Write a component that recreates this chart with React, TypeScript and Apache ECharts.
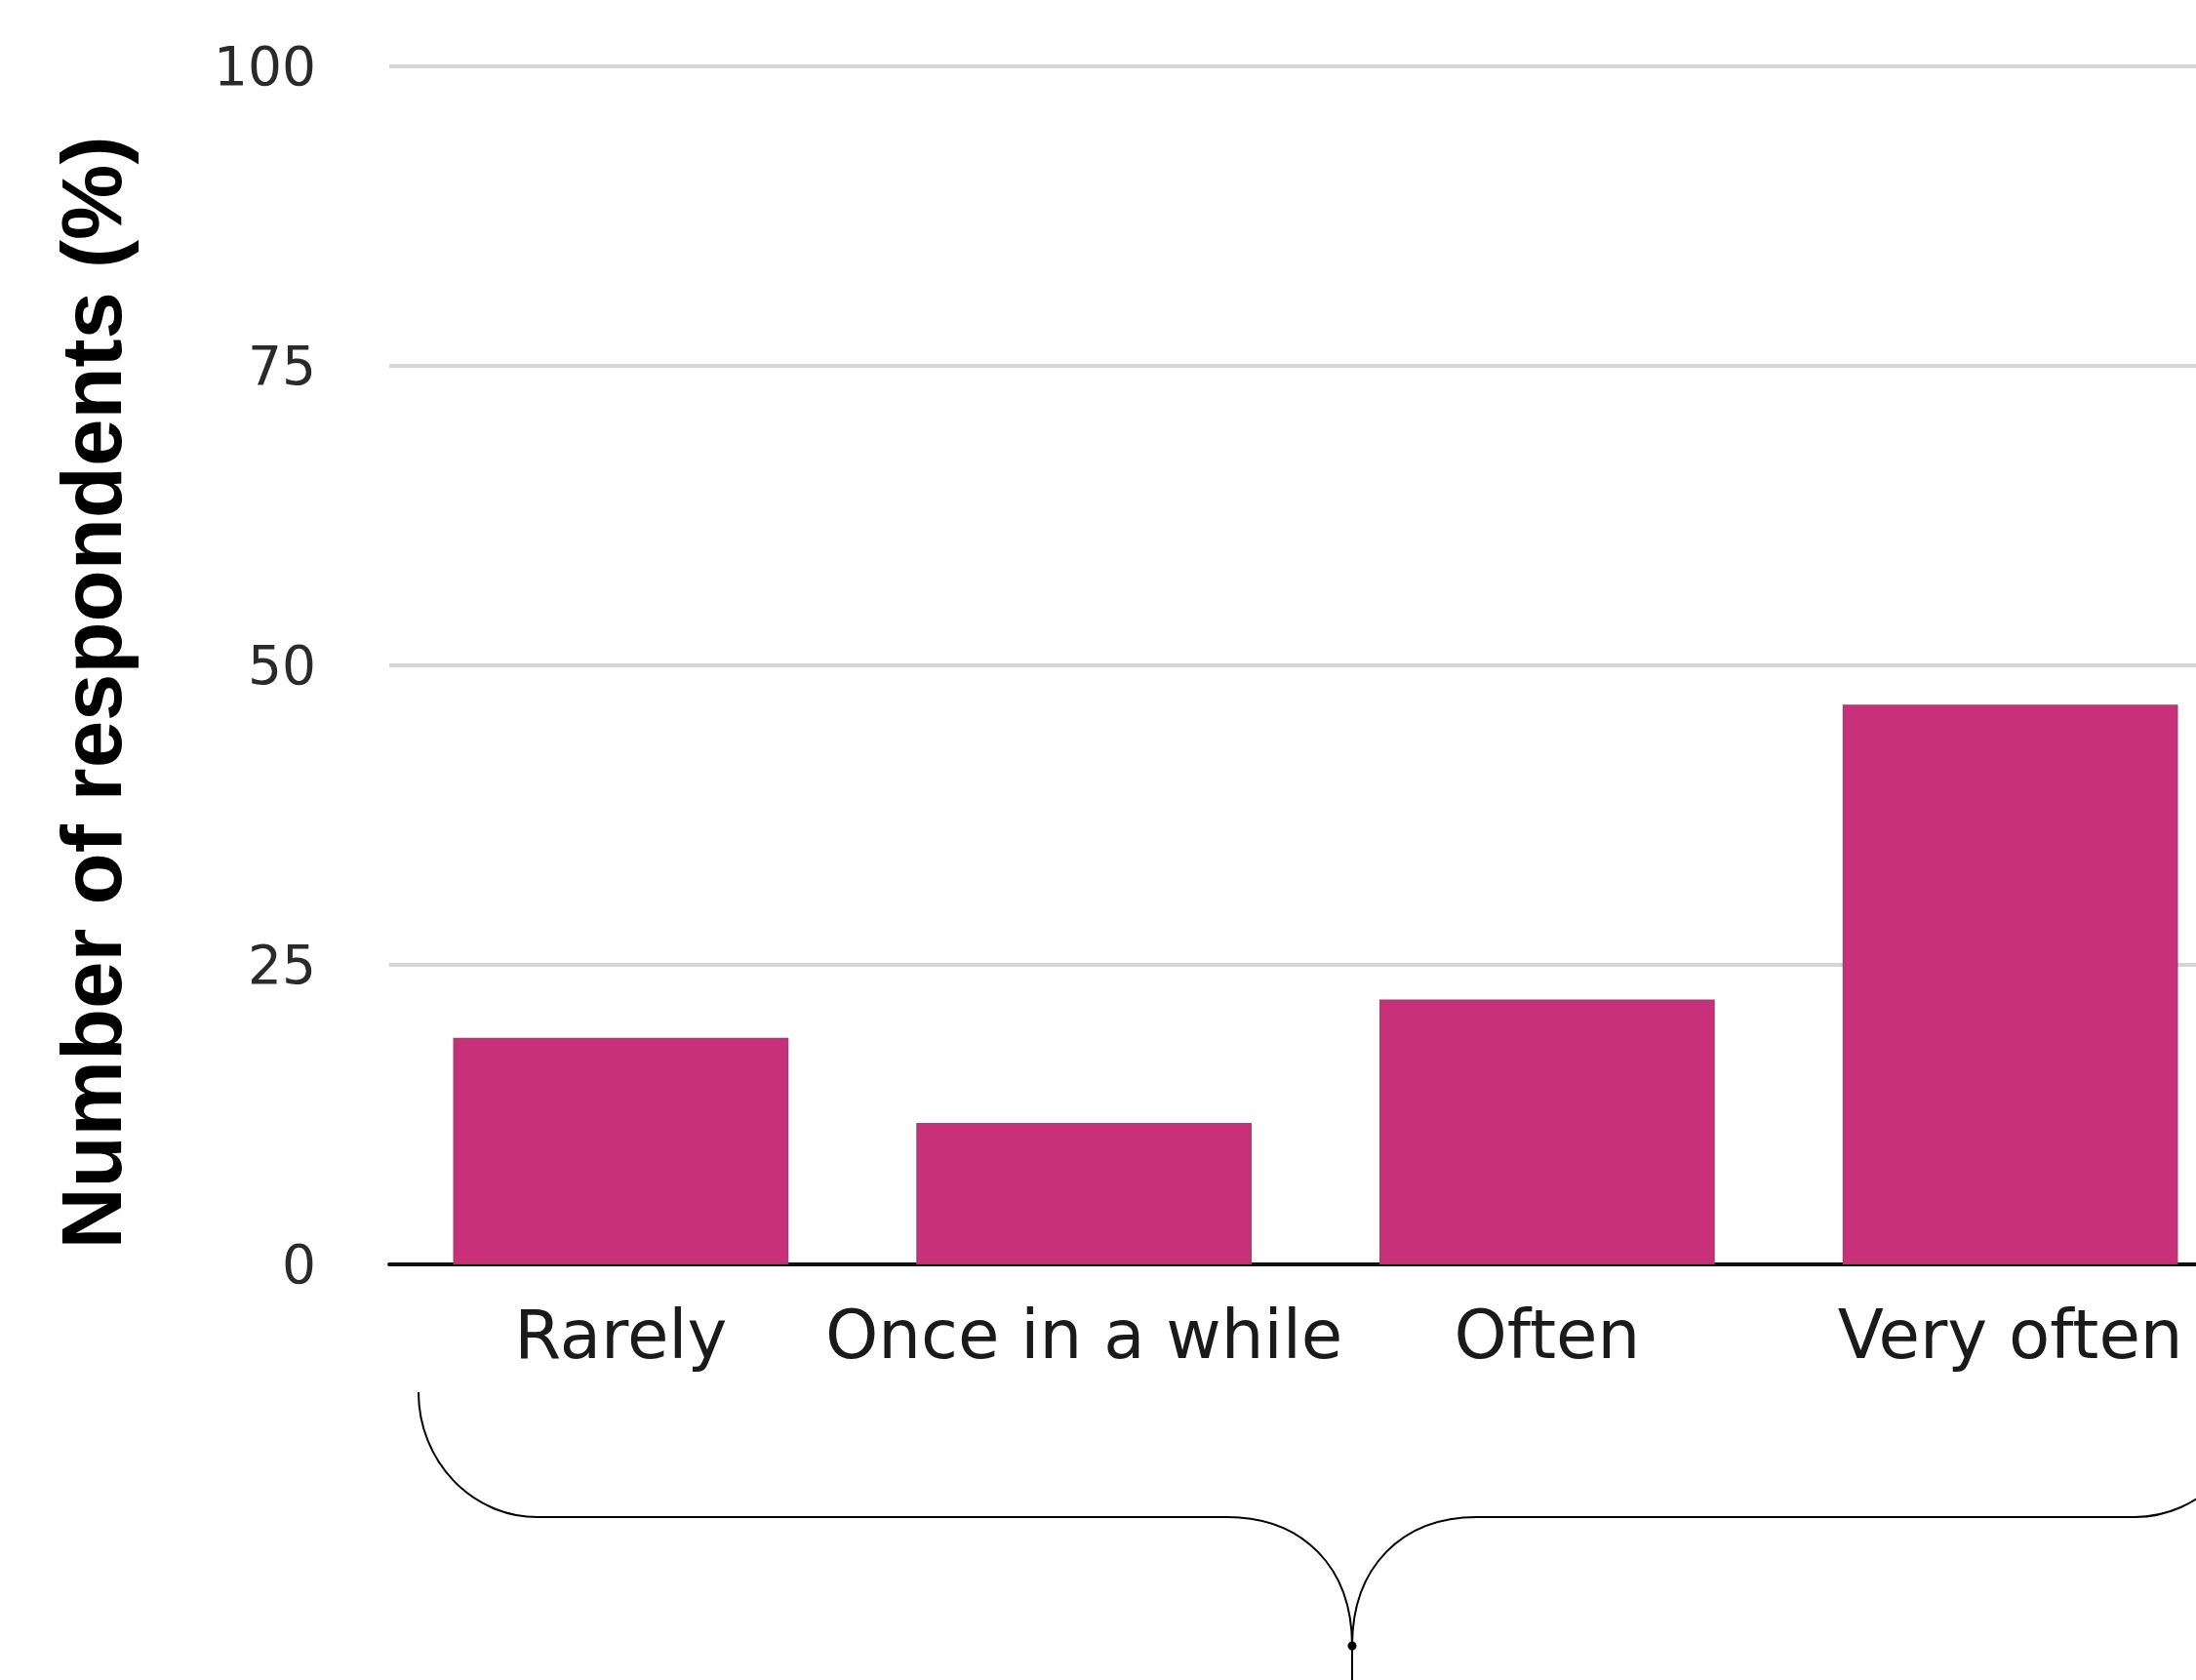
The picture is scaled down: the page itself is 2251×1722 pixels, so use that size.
import React, { useEffect, useRef } from "react";
import * as echarts from "echarts";

const categories = ["Rarely", "Once in a while", "Often", "Very often"];
const respondentsPct = [18.9, 11.8, 22.1, 46.7];
const yTicks = { min: 0, max: 100, interval: 25 };
const yAxisTitle = "Number of respondents (%)";

export default function App() {
  const ref = useRef<HTMLDivElement>(null);

  useEffect(() => {
    document.body.style.margin = "0";
    document.body.style.overflow = "hidden";
    const chart = echarts.init(ref.current!, null, { renderer: "svg" });
    const stroke = { stroke: "#000", lineWidth: 2, fill: null };
    chart.setOption({
      animation: false,
      backgroundColor: "#ffffff",
      grid: {
        left: 399,
        right: -47,
        top: 67.5,
        bottom: 426,
        containLabel: false,
        outerBoundsMode: "none",
      },
      xAxis: {
        type: "category",
        data: categories,
        axisTick: { show: false },
        axisLine: { show: true, lineStyle: { color: "#111111", width: 4 } },
        axisLabel: {
          interval: 0,
          hideOverlap: false,
          margin: 37,
          fontFamily: "DejaVu Sans",
          fontSize: 69,
          color: "#1a1a1a",
        },
        splitLine: { show: false },
      },
      yAxis: {
        type: "value",
        min: yTicks.min,
        max: yTicks.max,
        interval: yTicks.interval,
        axisLine: { show: false },
        axisTick: { show: false },
        axisLabel: {
          margin: 75,
          fontFamily: "DejaVu Sans",
          fontSize: 55,
          color: "#2a2a2a",
        },
        splitLine: { show: true, lineStyle: { color: "#d6d6d6", width: 4 } },
      },
      series: [
        {
          type: "bar",
          data: respondentsPct,
          barCategoryGap: "27.6%",
          itemStyle: {
            color: "#c8307a",
            borderColor: "#a3406f",
            borderWidth: 1.5,
          },
        },
      ],
      graphic: [
        {
          type: "text",
          x: 93.5,
          y: 710,
          rotation: Math.PI / 2,
          style: {
            text: yAxisTitle,
            fontFamily: "'Liberation Sans', Arial, Helvetica, sans-serif",
            fontWeight: "bold",
            fontSize: 87,
            fill: "#000",
            textAlign: "center",
            textVerticalAlign: "middle",
          },
        },
        {
          type: "bezierCurve",
          shape: { x1: 429, y1: 1427, cpx1: 429, cpy1: 1498, cpx2: 484, cpy2: 1555, x2: 551, y2: 1555 },
          style: stroke,
        },
        { type: "line", shape: { x1: 551, y1: 1555, x2: 1258, y2: 1555 }, style: stroke },
        {
          type: "bezierCurve",
          shape: { x1: 1258, y1: 1555, cpx1: 1335, cpy1: 1555, cpx2: 1386, cpy2: 1606, x2: 1386, y2: 1687 },
          style: stroke,
        },
        {
          type: "bezierCurve",
          shape: { x1: 1386, y1: 1687, cpx1: 1386, cpy1: 1606, cpx2: 1437, cpy2: 1555, x2: 1514, y2: 1555 },
          style: stroke,
        },
        { type: "line", shape: { x1: 1514, y1: 1555, x2: 2188, y2: 1555 }, style: stroke },
        {
          type: "bezierCurve",
          shape: { x1: 2188, y1: 1555, cpx1: 2255, cpy1: 1555, cpx2: 2310, cpy2: 1498, x2: 2310, y2: 1427 },
          style: stroke,
        },
        { type: "line", shape: { x1: 1386, y1: 1687, x2: 1386, y2: 1722 }, style: stroke },
        { type: "circle", shape: { cx: 1386, cy: 1687, r: 4.5 }, style: { fill: "#000" } },
      ],
    });
    return () => chart.dispose();
  }, []);

  return (
    <div
      ref={ref}
      style={{ position: "fixed", left: 0, top: 0, width: 2251, height: 1722 }}
    />
  );
}
